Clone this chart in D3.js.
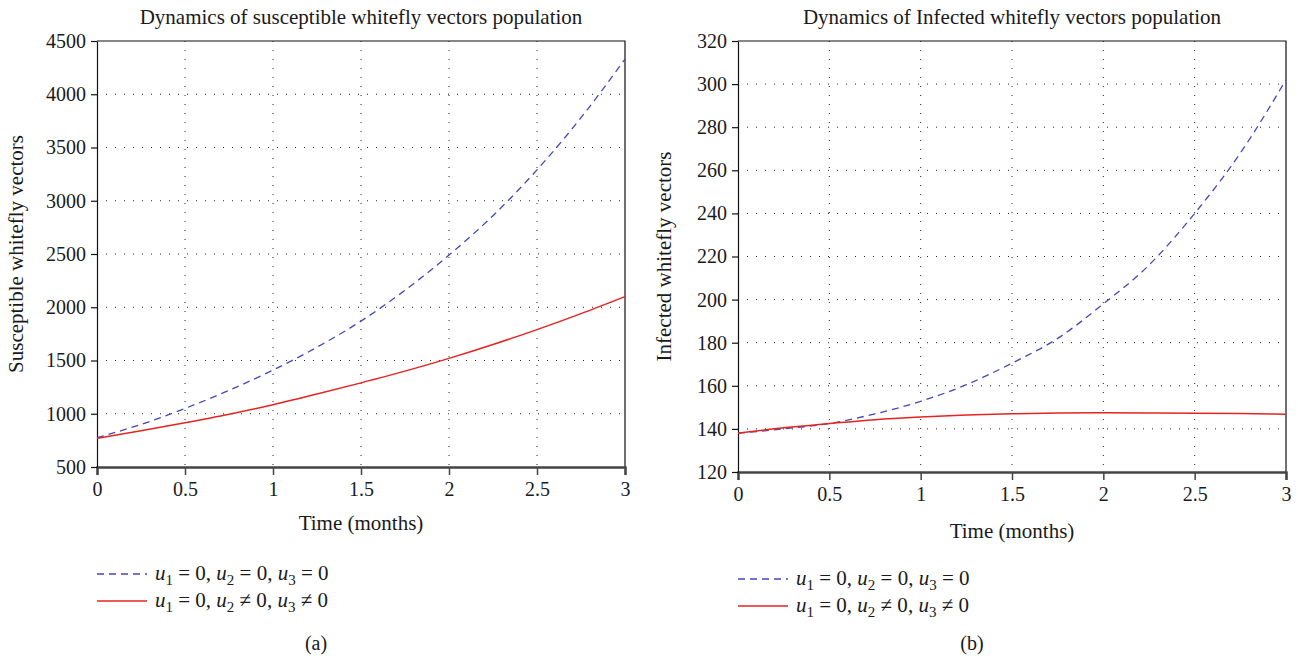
<!DOCTYPE html>
<html>
<head>
<meta charset="utf-8">
<script src="https://cdn.jsdelivr.net/npm/d3@7"></script>
<style>
  body { margin: 0; background: #fff; }
  svg text { font-family: "Liberation Serif", "DejaVu Serif", serif; fill: #1a1a1a; }
</style>
</head>
<body>
<svg id="chart" width="1298" height="659"></svg>
<script>
// time points (months)
var months = [0, 0.25, 0.5, 0.75, 1, 1.25, 1.5, 1.75, 2, 2.25, 2.5, 2.75, 3];
var xTicks = [0, 0.5, 1, 1.5, 2, 2.5, 3];

// (a) susceptible whitefly vectors
var suscNoControl = [775, 900, 1050, 1220, 1410, 1625, 1870, 2160, 2490, 2860, 3290, 3780, 4330];
var suscControl   = [770, 840, 915, 995, 1085, 1185, 1290, 1400, 1520, 1650, 1790, 1940, 2100];
var suscTicks = [500, 1000, 1500, 2000, 2500, 3000, 3500, 4000, 4500];

// (b) infected whitefly vectors
var infNoControl = [138, 140, 142.5, 147, 152.8, 160.5, 170.5, 182, 198, 216, 240, 268, 302];
var infControl   = [138, 140.5, 142.5, 144.3, 145.5, 146.4, 147, 147.4, 147.5, 147.4, 147.3, 147.1, 146.8];
var infTicks = [120, 140, 160, 180, 200, 220, 240, 260, 280, 300, 320];

var blue = "#4646b8", red = "#e42420";
var serif = "Liberation Serif, DejaVu Serif, serif";
var svg = d3.select("#chart");

function drawPanel(o) {
  var x = d3.scaleLinear().domain([0, 3]).range([o.left, o.right]);
  var y = d3.scaleLinear().domain([o.ticks[0], o.ticks[o.ticks.length - 1]]).range([o.bottom, o.top]);
  var g = svg.append("g");

  // dotted grid
  g.selectAll(".vgrid").data(xTicks.slice(1, -1)).enter().append("line")
      .attr("x1", function(d) { return x(d); }).attr("x2", function(d) { return x(d); })
      .attr("y1", o.top).attr("y2", o.bottom)
      .attr("stroke", "#222").attr("stroke-width", 1).attr("stroke-dasharray", "1,8");
  g.selectAll(".hgrid").data(o.ticks.slice(1, -1)).enter().append("line")
      .attr("x1", o.left).attr("x2", o.right)
      .attr("y1", function(d) { return y(d); }).attr("y2", function(d) { return y(d); })
      .attr("stroke", "#222").attr("stroke-width", 1).attr("stroke-dasharray", "1,8");

  // frame top + right
  g.append("path")
      .attr("d", "M" + o.left + "," + o.top + "H" + o.right + "V" + o.bottom)
      .attr("fill", "none").attr("stroke", "#111").attr("stroke-width", 1.2);

  var xAxis = d3.axisBottom(x).tickValues(xTicks).tickSize(8).tickPadding(7)
      .tickFormat(function(d) { return d; });
  var gx = g.append("g").attr("transform", "translate(0," + o.bottom + ")").call(xAxis);
  gx.select(".domain").attr("stroke", "#444").attr("stroke-width", 2.4);
  gx.selectAll(".tick line").attr("stroke", "#444").attr("stroke-width", 1.5);
  gx.selectAll("text").attr("fill", "#1a1a1a")
      .style("font-family", serif).style("font-size", "20px");

  var yAxis = d3.axisLeft(y).tickValues(o.ticks).tickSize(6).tickPadding(5).tickSizeOuter(0)
      .tickFormat(d3.format("d"));
  var gy = g.append("g").attr("transform", "translate(" + o.left + ",0)").call(yAxis);
  gy.select(".domain").attr("stroke", "#111").attr("stroke-width", 1.2);
  gy.selectAll(".tick line").attr("stroke", "#111").attr("stroke-width", 1.2);
  gy.selectAll("text").attr("fill", "#1a1a1a")
      .style("font-family", serif).style("font-size", "20px");

  var line = d3.line()
      .x(function(d, i) { return x(months[i]); })
      .y(function(d) { return y(d); })
      .curve(d3.curveMonotoneX);

  g.append("path").datum(o.noControl).attr("d", line)
      .attr("fill", "none").attr("stroke", blue).attr("stroke-width", 1.3)
      .attr("stroke-dasharray", "7,5");
  g.append("path").datum(o.control).attr("d", line)
      .attr("fill", "none").attr("stroke", red).attr("stroke-width", 1.5);

  // titles
  g.append("text").attr("x", (o.left + o.right) / 2).attr("y", o.top - 17)
      .attr("text-anchor", "middle").style("font-size", "21px").text(o.title);
  g.append("text").attr("x", (o.left + o.right) / 2).attr("y", o.xLabelY)
      .attr("text-anchor", "middle").style("font-size", "21px").text("Time (months)");
  g.append("text")
      .attr("transform", "translate(" + o.yLabelX + "," + ((o.top + o.bottom) / 2) + ") rotate(-90)")
      .attr("text-anchor", "middle").style("font-size", "21px").text(o.yLabel);

  // legend
  var legend = [
    {dash: "7,5", color: blue, ops: ["=", "=", "="]},
    {dash: null, color: red, ops: ["=", "\u2260", "\u2260"]}
  ];
  legend.forEach(function(l, i) {
    var ly = o.legendY + i * 27;
    g.append("line").attr("x1", o.left).attr("x2", o.left + 50)
        .attr("y1", ly).attr("y2", ly)
        .attr("stroke", l.color).attr("stroke-width", 1.3)
        .attr("stroke-dasharray", l.dash);
    var t = g.append("text").attr("x", o.left + 58).attr("y", ly + 6).style("font-size", "21px");
    for (var k = 0; k < 3; k++) {
      if (k > 0) t.append("tspan").text(", ");
      t.append("tspan").style("font-style", "italic").text("u");
      t.append("tspan").attr("dy", 5).style("font-size", "15px").text(k + 1);
      t.append("tspan").attr("dy", -5).text(" " + l.ops[k] + " 0");
    }
  });

  g.append("text").attr("x", o.tag[0]).attr("y", o.tag[1])
      .attr("text-anchor", "middle").style("font-size", "20px").text(o.tagText);
}

drawPanel({
  left: 97, right: 625, top: 41, bottom: 467,
  ticks: suscTicks, noControl: suscNoControl, control: suscControl,
  title: "Dynamics of susceptible whitefly vectors population",
  yLabel: "Susceptible whitefly vectors", yLabelX: 23, xLabelY: 530,
  legendY: 574, tag: [316, 650], tagText: "(a)"
});

drawPanel({
  left: 738, right: 1286, top: 41, bottom: 472,
  ticks: infTicks, noControl: infNoControl, control: infControl,
  title: "Dynamics of Infected whitefly vectors population",
  yLabel: "Infected whitefly vectors", yLabelX: 671, xLabelY: 538,
  legendY: 579, tag: [972, 650], tagText: "(b)"
});
</script>
</body>
</html>
